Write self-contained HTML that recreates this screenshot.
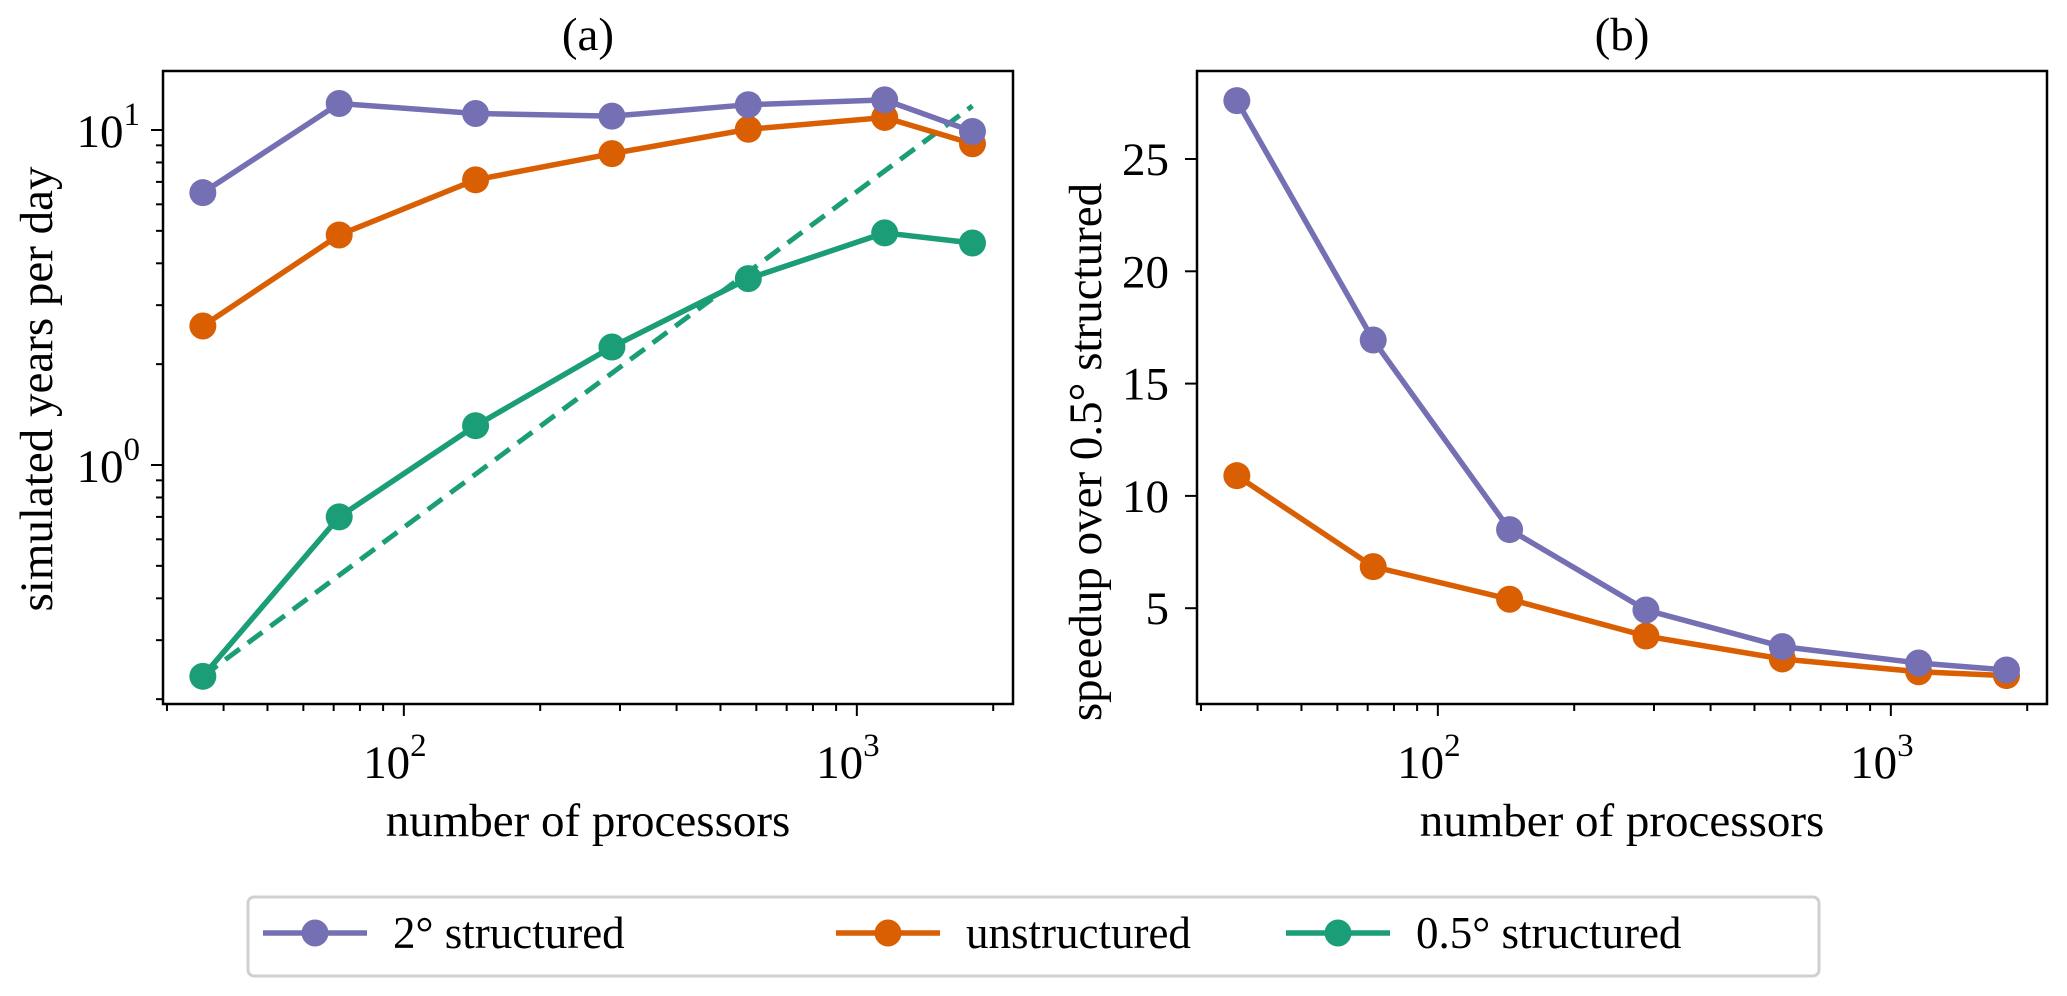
<!DOCTYPE html>
<html><head><meta charset="utf-8">
<style>
html,body{margin:0;padding:0;background:#fff;}
svg{display:block;font-family:"Liberation Serif","DejaVu Serif",serif;}
</style></head>
<body>
<svg id="chart" width="2067" height="996" viewBox="0 0 2067 996" xmlns="http://www.w3.org/2000/svg"></svg>
<script>
const procs = [36, 72, 144, 288, 576, 1152, 1800];
const yearsStruct2 = [6.5, 12.0, 11.2, 11.0, 11.9, 12.3, 9.9];
const yearsUnstruct = [2.6, 4.86, 7.1, 8.5, 10.05, 10.9, 9.1];
const yearsStruct05 = [0.234, 0.70, 1.31, 2.25, 3.6, 4.93, 4.6];
const idealProcs = [36, 1800];
const idealYears = [0.234, 11.8];
const speedStruct2 = [27.6, 16.94, 8.5, 4.92, 3.29, 2.56, 2.25];
const speedUnstruct = [10.9, 6.85, 5.4, 3.76, 2.74, 2.17, 2.0];
const speedTicks = [5, 10, 15, 20, 25];
const legendLabels = ["2° structured", "unstructured", "0.5° structured"];

const C = {p:"#7570b3", o:"#d95f02", g:"#1b9e77"};
const NS = "http://www.w3.org/2000/svg";
const svg = document.getElementById("chart");
const FS = 47;
function mk(tag, attrs, parent){
  const e = document.createElementNS(NS, tag);
  for (const k in attrs) e.setAttribute(k, attrs[k]);
  (parent||svg).appendChild(e);
  return e;
}
const TOP = 71, BOT = 704;
const xA = v => 163 + 453*(Math.log10(v) - Math.log10(29.4));
const xB = v => 1197 + 453*(Math.log10(v) - Math.log10(29.4));
const yA = v => 465 - 335*Math.log10(v);
const yB = v => 159 + (25 - v)*22.46;

function xTicks(g, xf, left, right){
  for (let d=10; d<=1000; d*=10){
    for (let m=1; m<10; m++){
      const v=d*m, x=xf(v);
      if (x<left-0.5 || x>right+0.5) continue;
      const major = m===1;
      const t = mk("line",{x1:x,x2:x,y1:BOT,y2:BOT+(major?12:7),stroke:"#000","stroke-width":2},g);
      
      
      if (major){
        const tx = mk("text",{x:x-9,y:778,"font-size":FS,"text-anchor":"middle"},g);
        
        
        tx.textContent="10";
        const sp = mk("tspan",{dy:-22,"font-size":33},tx);
        sp.textContent = String(Math.round(Math.log10(v)));
      }
    }
  }
}
function series(g, xs, ys, xf, yf, color, name, dashed){
  const pts = xs.map((x,i)=>xf(x)+","+yf(ys[i])).join(" ");
  const l = mk("polyline",{points:pts,fill:"none",stroke:color,"stroke-width":5.5,"stroke-linejoin":"round"},g);
  if (dashed){ l.setAttribute("stroke-dasharray","18,10"); l.setAttribute("stroke-width",5); }
  
  
  if (!dashed){
    xs.forEach((x,i)=>{
      const c = mk("circle",{cx:xf(x),cy:yf(ys[i]),r:13.5,fill:color},g);
      
      
    });
  }
}

// ---- Panel (a)
const gA = mk("g",{});


const ta = mk("text",{x:588,y:50,"font-size":FS,"text-anchor":"middle"},gA);


ta.textContent="(a)";
const clipA = mk("clipPath",{id:"ca"},gA); mk("rect",{x:163,y:TOP,width:850,height:BOT-TOP},clipA);
const dA = mk("g",{"clip-path":"url(#ca)"},gA);
series(dA, idealProcs, idealYears, xA, yA, C.g, 'ideal-scaling', true);
series(dA, procs, yearsStruct05, xA, yA, C.g, 'struct05');
series(dA, procs, yearsUnstruct, xA, yA, C.o, 'unstructured');
series(dA, procs, yearsStruct2, xA, yA, C.p, 'struct2');
xTicks(gA, xA, 163, 1013);
for (let d=0.1; d<=10; d*=10){
  for (let m=1; m<10; m++){
    const v=d*m, y=yA(v);
    if (y<TOP || y>BOT) continue;
    const major = m===1;
    const t = mk("line",{x1:163,x2:163-(major?12:7),y1:y,y2:y,stroke:"#000","stroke-width":2},gA);
    
    
    if (major){
      const tx = mk("text",{x:140,y:y+17,"font-size":FS,"text-anchor":"end"},gA);
      
      
      tx.textContent="10";
      const sp = mk("tspan",{dy:-22,"font-size":33},tx);
      sp.textContent = String(Math.round(Math.log10(v)));
    }
  }
}
const fa = mk("rect",{x:163,y:TOP,width:850,height:BOT-TOP,fill:"none",stroke:"#000","stroke-width":2.5},gA);


const yla = mk("text",{x:0,y:0,"font-size":FS,"text-anchor":"middle",transform:"translate(52,389) rotate(-90)"},gA);


yla.textContent="simulated years per day";
const xla = mk("text",{x:588,y:836,"font-size":FS,"text-anchor":"middle"},gA);


xla.textContent="number of processors";

// ---- Panel (b)
const gB = mk("g",{});


const tb = mk("text",{x:1622,y:50,"font-size":FS,"text-anchor":"middle"},gB);


tb.textContent="(b)";
series(gB, procs, speedUnstruct, xB, yB, C.o, 'speedup-unstructured');
series(gB, procs, speedStruct2, xB, yB, C.p, 'speedup-struct2');
xTicks(gB, xB, 1197, 2047);
speedTicks.forEach(v=>{
  const y=yB(v);
  const t = mk("line",{x1:1197,x2:1185,y1:y,y2:y,stroke:"#000","stroke-width":2},gB);
  
  
  const tx = mk("text",{x:1169,y:y+16,"font-size":FS,"text-anchor":"end"},gB);
  
  
  tx.textContent=String(v);
});
const fb = mk("rect",{x:1197,y:TOP,width:850,height:BOT-TOP,fill:"none",stroke:"#000","stroke-width":2.5},gB);


const ylb = mk("text",{x:0,y:0,"font-size":FS,"text-anchor":"middle","xml:space":"preserve",transform:"translate(1101,452) rotate(-90)"},gB);


ylb.textContent="speedup over  0.5° structured";
const xlb = mk("text",{x:1622,y:836,"font-size":FS,"text-anchor":"middle"},gB);


xlb.textContent="number of processors";

// ---- Legend
const gL = mk("g",{});


const lb = mk("rect",{x:248,y:897,width:1571,height:79,rx:6,fill:"#fff",stroke:"#d0d0d0","stroke-width":3},gL);


const lx = [263, 836, 1286];
const lc = [C.p, C.o, C.g];
legendLabels.forEach((s,i)=>{
  const e = mk("g",{},gL);
  
  
  mk("line",{x1:lx[i],x2:lx[i]+104,y1:933,y2:933,stroke:lc[i],"stroke-width":5.5},e);
  mk("circle",{cx:lx[i]+52,cy:933,r:13.5,fill:lc[i]},e);
  const t = mk("text",{x:lx[i]+130,y:948,"font-size":45},e);
  t.textContent = s;
});
</script>
</body></html>
